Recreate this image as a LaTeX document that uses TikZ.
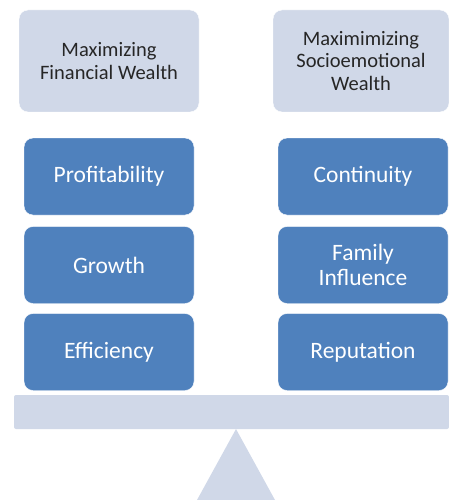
\documentclass[tikz,border=0pt]{standalone}
\usepackage{fontspec}
\setmainfont{Carlito}
\usepackage{tikz}
\usetikzlibrary{shapes, positioning}
\definecolor{paleblue}{HTML}{D0D8E8}
\definecolor{midblue}{HTML}{4F81BD}
\tikzstyle{goal} = [rectangle, rounded corners = 9pt, fill = paleblue, draw = white, minimum height = 102pt, align = center, font = \fontsize{20.5}{22.5}\selectfont, text = black!85]
\tikzstyle{factor} = [rectangle, rounded corners = 9pt, fill = midblue, draw = white, minimum width = 170pt, minimum height = 77pt, align = center, font = \fontsize{23.5}{25}\selectfont, text = white]

\begin{document}
\begin{tikzpicture}[x = 1pt, y = -1pt]
    \useasboundingbox (0, 0) rectangle (449, 500);
    % the two aims on top
    \node[goal, minimum width = 180pt] (financial) at (109, 61) {Maximizing\\Financial Wealth};
    \node[goal, minimum width = 176pt] (socio) at (361, 61) {Maximimizing\\Socioemotional\\Wealth};
    % left pan
    \node[factor] (profit) at (109, 176.5) {Profitability};
    \node[factor] (growth) at (109, 265) {Growth};
    \node[factor] (effic) at (109, 352) {Efficiency};
    % right pan
    \node[factor] (contin) at (363, 176.5) {Continuity};
    \node[factor] (family) at (363, 265) {Family\\Influence};
    \node[factor] (reput) at (363, 352) {Reputation};
    % beam and pivot
    \fill[paleblue, rounded corners = 2pt] (14, 395) rectangle (449, 429);
    \fill[paleblue] (236, 429) -- (275, 500) -- (197, 500) -- cycle;
\end{tikzpicture}
\end{document}
